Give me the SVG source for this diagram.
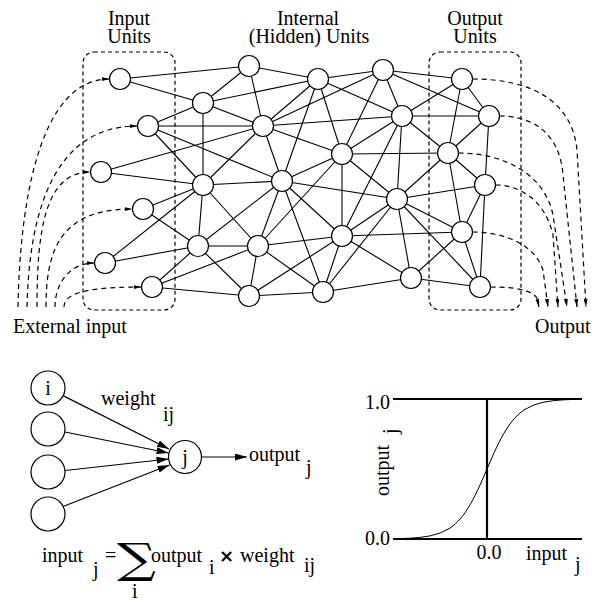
<svg xmlns="http://www.w3.org/2000/svg" width="598" height="601" viewBox="0 0 598 601">
<style>
text{font-family:"Liberation Serif","Times New Roman",serif;fill:#000}
.t{font-size:20px}
.e line{stroke:#000;stroke-width:1.1}
.n{fill:#fff;stroke:#000;stroke-width:1.2}
.d{fill:none;stroke:#000;stroke-width:1.2;stroke-dasharray:5 4}
.box{fill:none;stroke:#000;stroke-width:1.2;stroke-dasharray:4 3}
.a{stroke:#000;stroke-width:1.2;fill:none}
.thick{stroke:#000;stroke-width:2.2}
</style>
<defs>
<marker id="sa" markerUnits="userSpaceOnUse" viewBox="0 0 8 4" refX="8" refY="2" markerWidth="8" markerHeight="4" orient="auto"><path d="M0,0L8,2L0,4z" fill="#000"/></marker>
<marker id="ba" markerUnits="userSpaceOnUse" viewBox="0 0 12 7" refX="12" refY="3.5" markerWidth="12" markerHeight="7" orient="auto"><path d="M0,0L12,3.5L0,7z" fill="#000"/></marker>
</defs>
<rect width="598" height="601" fill="#fff"/>
<g id="labels">
<text class="t" x="129" y="25" text-anchor="middle">Input</text>
<text class="t" x="129" y="43" text-anchor="middle">Units</text>
<text class="t" x="308" y="25" text-anchor="middle">Internal</text>
<text class="t" x="309" y="43" text-anchor="middle">(Hidden) Units</text>
<text class="t" x="475" y="25" text-anchor="middle">Output</text>
<text class="t" x="475" y="43" text-anchor="middle">Units</text>
<text class="t" x="13" y="333">External input</text>
<text class="t" x="535" y="333">Output</text>
</g>
<g id="boxes">
<rect class="box" x="83" y="52" width="92" height="258" rx="11"/>
<rect class="box" x="429" y="52" width="92" height="258" rx="11"/>
</g>
<g id="connectors" class="e">
<line x1="120" y1="79" x2="249" y2="66"/><line x1="120" y1="79" x2="203" y2="103"/>
<line x1="148" y1="126" x2="203" y2="103"/><line x1="148" y1="126" x2="263" y2="126"/><line x1="148" y1="126" x2="203" y2="185"/><line x1="148" y1="126" x2="282" y2="181"/>
<line x1="101" y1="172" x2="263" y2="126"/><line x1="101" y1="172" x2="203" y2="185"/>
<line x1="143" y1="209" x2="203" y2="185"/><line x1="143" y1="209" x2="198" y2="246"/>
<line x1="105" y1="263" x2="203" y2="185"/><line x1="105" y1="263" x2="198" y2="246"/>
<line x1="152" y1="287" x2="198" y2="246"/><line x1="152" y1="287" x2="258" y2="246"/><line x1="152" y1="287" x2="249" y2="296"/>
<line x1="249" y1="66" x2="203" y2="103"/><line x1="249" y1="66" x2="263" y2="126"/><line x1="249" y1="66" x2="318" y2="79"/>
<line x1="203" y1="103" x2="263" y2="126"/><line x1="203" y1="103" x2="318" y2="79"/><line x1="203" y1="103" x2="203" y2="185"/>
<line x1="263" y1="126" x2="318" y2="79"/><line x1="263" y1="126" x2="383" y2="70"/><line x1="263" y1="126" x2="402" y2="116"/><line x1="263" y1="126" x2="342" y2="154"/><line x1="263" y1="126" x2="203" y2="185"/><line x1="263" y1="126" x2="282" y2="181"/>
<line x1="318" y1="79" x2="383" y2="70"/><line x1="318" y1="79" x2="402" y2="116"/><line x1="318" y1="79" x2="342" y2="154"/><line x1="318" y1="79" x2="282" y2="181"/>
<line x1="383" y1="70" x2="402" y2="116"/><line x1="383" y1="70" x2="342" y2="154"/><line x1="383" y1="70" x2="462" y2="79"/><line x1="383" y1="70" x2="489" y2="116"/>
<line x1="402" y1="116" x2="342" y2="154"/><line x1="402" y1="116" x2="397" y2="199"/><line x1="402" y1="116" x2="342" y2="236"/><line x1="402" y1="116" x2="462" y2="79"/><line x1="402" y1="116" x2="489" y2="116"/><line x1="402" y1="116" x2="448" y2="153"/>
<line x1="342" y1="154" x2="282" y2="181"/><line x1="342" y1="154" x2="397" y2="199"/><line x1="342" y1="154" x2="258" y2="246"/><line x1="342" y1="154" x2="342" y2="236"/><line x1="342" y1="154" x2="448" y2="153"/>
<line x1="203" y1="185" x2="282" y2="181"/><line x1="203" y1="185" x2="198" y2="246"/><line x1="203" y1="185" x2="258" y2="246"/>
<line x1="282" y1="181" x2="397" y2="199"/><line x1="282" y1="181" x2="198" y2="246"/><line x1="282" y1="181" x2="258" y2="246"/><line x1="282" y1="181" x2="342" y2="236"/><line x1="282" y1="181" x2="323" y2="292"/>
<line x1="397" y1="199" x2="342" y2="236"/><line x1="397" y1="199" x2="323" y2="292"/><line x1="397" y1="199" x2="411" y2="278"/><line x1="397" y1="199" x2="448" y2="153"/><line x1="397" y1="199" x2="485" y2="185"/><line x1="397" y1="199" x2="462" y2="232"/><line x1="397" y1="199" x2="480" y2="287"/>
<line x1="198" y1="246" x2="258" y2="246"/><line x1="198" y1="246" x2="249" y2="296"/>
<line x1="258" y1="246" x2="342" y2="236"/><line x1="258" y1="246" x2="249" y2="296"/><line x1="258" y1="246" x2="323" y2="292"/>
<line x1="342" y1="236" x2="249" y2="296"/><line x1="342" y1="236" x2="323" y2="292"/><line x1="342" y1="236" x2="411" y2="278"/><line x1="342" y1="236" x2="462" y2="232"/>
<line x1="249" y1="296" x2="323" y2="292"/>
<line x1="323" y1="292" x2="411" y2="278"/>
<line x1="411" y1="278" x2="462" y2="232"/><line x1="411" y1="278" x2="480" y2="287"/>
<line x1="462" y1="79" x2="489" y2="116"/><line x1="462" y1="79" x2="448" y2="153"/>
<line x1="489" y1="116" x2="448" y2="153"/><line x1="489" y1="116" x2="485" y2="185"/>
<line x1="448" y1="153" x2="485" y2="185"/><line x1="448" y1="153" x2="462" y2="232"/>
<line x1="485" y1="185" x2="462" y2="232"/><line x1="485" y1="185" x2="480" y2="287"/>
<line x1="462" y1="232" x2="480" y2="287"/>
</g>
<g id="io-connectors">
<path class="d" marker-end="url(#sa)" d="M18,307C20,200 40,79 109.5,79"/>
<path class="d" marker-end="url(#sa)" d="M27,307C29,222 49,126 137.5,126"/>
<path class="d" marker-end="url(#sa)" d="M37,307C37,230 45,172 90.5,172"/>
<path class="d" marker-end="url(#sa)" d="M46,307C46,250 60,209 132.5,209"/>
<path class="d" marker-end="url(#sa)" d="M55,307C55,285 68,263 94.5,263"/>
<path class="d" marker-end="url(#sa)" d="M64,307C64,295 80,287 141.5,287"/>
<path class="d" marker-end="url(#sa)" d="M472.5,79C530,79 572,100 577,150L586,307"/>
<path class="d" marker-end="url(#sa)" d="M499.5,116C535,116 560,135 563,175L577,307"/>
<path class="d" marker-end="url(#sa)" d="M458.5,153C505,153 545,175 553,215L567,307"/>
<path class="d" marker-end="url(#sa)" d="M495.5,185C520,185 545,200 553,235L558,307"/>
<path class="d" marker-end="url(#sa)" d="M472.5,232C505,232 535,245 543,270L548,307"/>
<path class="d" marker-end="url(#sa)" d="M490.5,287C515,287 532,290 537,298L539,307"/>
</g>
<g id="nodes">
<circle id="I1" class="n" cx="120" cy="79" r="10.5"/><circle id="I2" class="n" cx="148" cy="126" r="10.5"/><circle id="I3" class="n" cx="101" cy="172" r="10.5"/><circle id="I4" class="n" cx="143" cy="209" r="10.5"/><circle id="I5" class="n" cx="105" cy="263" r="10.5"/><circle id="I6" class="n" cx="152" cy="287" r="10.5"/>
<circle id="H1" class="n" cx="249" cy="66" r="10.5"/><circle id="H2" class="n" cx="203" cy="103" r="10.5"/><circle id="H3" class="n" cx="263" cy="126" r="10.5"/><circle id="H4" class="n" cx="318" cy="79" r="10.5"/><circle id="H5" class="n" cx="383" cy="70" r="10.5"/><circle id="H6" class="n" cx="402" cy="116" r="10.5"/><circle id="H7" class="n" cx="342" cy="154" r="10.5"/><circle id="H8" class="n" cx="203" cy="185" r="10.5"/><circle id="H9" class="n" cx="282" cy="181" r="10.5"/><circle id="H10" class="n" cx="397" cy="199" r="10.5"/><circle id="H11" class="n" cx="198" cy="246" r="10.5"/><circle id="H12" class="n" cx="258" cy="246" r="10.5"/><circle id="H13" class="n" cx="342" cy="236" r="10.5"/><circle id="H14" class="n" cx="249" cy="296" r="10.5"/><circle id="H15" class="n" cx="323" cy="292" r="10.5"/><circle id="H16" class="n" cx="411" cy="278" r="10.5"/>
<circle id="O1" class="n" cx="462" cy="79" r="10.5"/><circle id="O2" class="n" cx="489" cy="116" r="10.5"/><circle id="O3" class="n" cx="448" cy="153" r="10.5"/><circle id="O4" class="n" cx="485" cy="185" r="10.5"/><circle id="O5" class="n" cx="462" cy="232" r="10.5"/><circle id="O6" class="n" cx="480" cy="287" r="10.5"/>
</g>
<g id="neuron">
<g id="ni"><circle class="n" cx="48" cy="388" r="17"/><text class="t" x="48" y="395" text-anchor="middle">i</text></g>
<g id="n2"><circle class="n" cx="48" cy="429" r="17"/></g>
<g id="n3"><circle class="n" cx="48" cy="472" r="17"/></g>
<g id="n4"><circle class="n" cx="48" cy="514" r="17"/></g>
<g id="nj"><circle class="n" cx="185" cy="457" r="16.5"/><text class="t" x="185" y="464" text-anchor="middle">j</text></g>
<g id="weights">
<line class="a" marker-end="url(#ba)" x1="63" y1="395.6" x2="169" y2="449"/>
<line class="a" marker-end="url(#ba)" x1="65" y1="432" x2="168.5" y2="453"/>
<line class="a" marker-end="url(#ba)" x1="65" y1="470.5" x2="168.5" y2="459"/>
<line class="a" marker-end="url(#ba)" x1="63" y1="506.5" x2="169.5" y2="465"/>
<line class="a" marker-end="url(#ba)" x1="201.5" y1="457" x2="247" y2="457"/>
</g>
<text class="t" x="101" y="405">weight</text><text class="t" x="163" y="421">ij</text>
<text class="t" x="249" y="461">output</text><text class="t" x="306" y="474">j</text>
</g>
<g id="formula">
<text class="t" x="42" y="562">input</text><text class="t" x="93" y="576">j</text>
<text class="t" x="105" y="562">=</text>
<text transform="translate(117,573) scale(1.3,1)" style="font-family:'DejaVu Serif',serif;font-size:42px">∑</text>
<text class="t" x="132" y="598">i</text>
<text class="t" x="151" y="562">output</text><text class="t" x="209" y="574">i</text>
<text x="219" y="562" style="font-family:'DejaVu Sans',sans-serif;font-size:18px;font-weight:bold">×</text>
<text class="t" x="240" y="562">weight</text><text class="t" x="304" y="572">ij</text>
</g>
<g id="plot">
<line class="thick" x1="393" y1="399" x2="582" y2="399"/>
<line class="thick" x1="393" y1="539" x2="582" y2="539"/>
<line class="thick" x1="487" y1="399" x2="487" y2="539"/>
<polyline fill="none" stroke="#000" stroke-width="1" points="393,538.7 400,538.6 410,538.2 420,537.4 430,535.9 440,533.1 450,528.1 455,524.2 460,519.1 465,512.8 470,504.9 475,495.6 480,485.1 487,469 494,452.9 499,442.4 504,433.1 509,425.2 514,418.9 519,413.8 524,409.9 534,404.9 544,402.1 554,400.6 564,399.8 574,399.4 582,399.3"/>
<text class="t" x="390" y="409" text-anchor="end">1.0</text>
<text class="t" x="390" y="545" text-anchor="end">0.0</text>
<text class="t" x="489" y="559" text-anchor="middle">0.0</text>
<text class="t" x="526" y="560">input</text><text class="t" x="575" y="571">j</text>
<text class="t" transform="translate(389,496) rotate(-90)">output</text>
<text class="t" transform="translate(397,434) rotate(-90)">j</text>
</g>
</svg>
